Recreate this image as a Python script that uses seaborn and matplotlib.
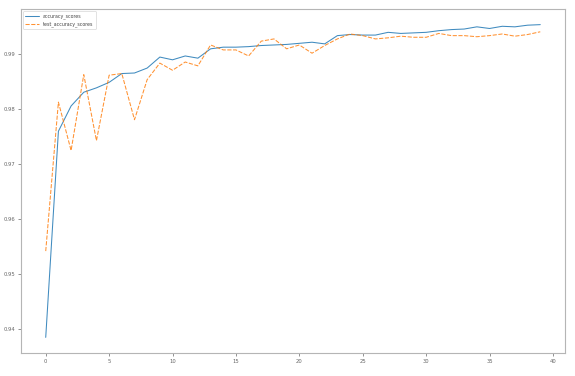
import matplotlib
matplotlib.use("Agg")
import matplotlib.pyplot as plt
import seaborn as sns
import pandas as pd

epochs = list(range(40))
accuracy_scores = [0.9384, 0.9759, 0.9805, 0.9830, 0.9838, 0.9848, 0.9864, 0.9865, 0.9874, 0.9894,
                   0.9889, 0.9896, 0.9892, 0.9909, 0.9912, 0.9912, 0.9913, 0.9915, 0.9916, 0.9917,
                   0.9919, 0.9921, 0.9918, 0.9933, 0.9935, 0.9934, 0.9934, 0.9939, 0.9937, 0.9938,
                   0.9939, 0.9942, 0.9944, 0.9945, 0.9949, 0.9946, 0.9950, 0.9949, 0.9952, 0.9953]
test_accuracy_scores = [0.9541, 0.9812, 0.9724, 0.9862, 0.9742, 0.9861, 0.9864, 0.9780, 0.9853, 0.9883,
                        0.9870, 0.9885, 0.9878, 0.9916, 0.9907, 0.9907, 0.9896, 0.9923, 0.9927, 0.9909,
                        0.9916, 0.9901, 0.9915, 0.9927, 0.9936, 0.9933, 0.9927, 0.9929, 0.9932, 0.9930,
                        0.9930, 0.9937, 0.9933, 0.9933, 0.9931, 0.9933, 0.9936, 0.9932, 0.9935, 0.9940]

df = pd.DataFrame({"accuracy_scores": accuracy_scores,
                   "test_accuracy_scores": test_accuracy_scores}, index=epochs)

sns.set_style("white")
fig = plt.figure(figsize=(5.75, 3.76), dpi=100)
ax = fig.add_axes([21/575, 1-353/376, (565-21)/575, (353-9)/376])
sns.lineplot(data=df, ax=ax, linewidth=0.75, alpha=0.85)

for s in ax.spines.values():
    s.set_color("#b5b5b5")
    s.set_linewidth(0.8)
ax.tick_params(axis="both", labelsize=3.8, colors="#666666", length=2, width=0.5,
               bottom=True, left=True, pad=2)
ax.set_xticks([0, 5, 10, 15, 20, 25, 30, 35, 40])
ax.set_yticks([0.94, 0.95, 0.96, 0.97, 0.98, 0.99])
ax.set_yticklabels(["0.94", "0.95", "0.96", "0.97", "0.98", "0.99"])
leg = ax.legend(loc="upper left", fontsize=3.4, frameon=True, handlelength=3.0,
                handletextpad=0.8, borderpad=0.5, labelspacing=0.5, borderaxespad=0.4)
leg.get_frame().set_edgecolor("#cccccc")
leg.get_frame().set_linewidth(0.5)
for t in leg.get_texts():
    t.set_color("#444444")

fig.savefig("out.png", dpi=100)
